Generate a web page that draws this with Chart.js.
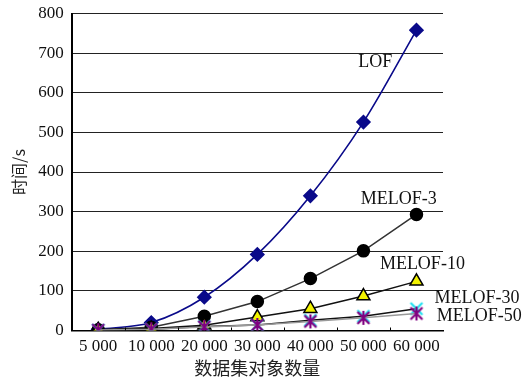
<!DOCTYPE html>
<html><head><meta charset="utf-8">
<script src="https://cdn.jsdelivr.net/npm/chart.js@4/dist/chart.umd.min.js"></script>
<style>html,body{margin:0;padding:0;background:#fff}</style>
</head><body>
<canvas id="c" width="530" height="380"></canvas>
<script>
const categories = ['5 000','10 000','20 000','30 000','40 000','50 000','60 000'];
const lof      = [3, 20, 84, 192, 340, 526, 758];
const melof3   = [2, 8, 36, 73, 131, 201, 293];
const melof10  = [2, 5, 13, 34, 55, 87, 124];
const melof30  = [1, 3, 10, 14, 26, 36, 55];
const melof50  = [1, 3, 9, 14, 23, 32, 43];
const yTicks   = [0,100,200,300,400,500,600,700,800];
const seriesNames = ['LOF','MELOF-3','MELOF-10','MELOF-30','MELOF-50'];
// label anchors: [category index, value]
const labelAnchors = [[4.9,677],[4.95,330],[5.31,167],[6.34,81],[6.38,36]];

function asterisk(color, r, spokes6) {
  const c = document.createElement('canvas');
  const s = r*2+4; c.width = s; c.height = s;
  const g = c.getContext('2d'); g.strokeStyle = color; g.lineWidth = 2.2; g.lineCap='butt';
  const m = s/2;
  g.beginPath();
  g.moveTo(m-r*0.85,m-r*0.85); g.lineTo(m+r*0.85,m+r*0.85);
  g.moveTo(m+r*0.85,m-r*0.85); g.lineTo(m-r*0.85,m+r*0.85);
  if (spokes6) { g.moveTo(m,m-r); g.lineTo(m,m+r); }
  g.stroke();
  return c;
}
const xCyan = asterisk('#22e0f0', 7, false);
const starPurple = asterisk('#800080', 7, true);

const serif = "'Liberation Serif','Times New Roman',serif";

const overlay = {
  id:'overlay',
  afterDraw(chart){
    const ctx = chart.ctx, xs = chart.scales.x, ys = chart.scales.y, a = chart.chartArea;
    ctx.save();
    ctx.strokeStyle = '#000'; ctx.lineWidth = 1;
    for (let i = 1; i < categories.length; i++) {
      const x = Math.round(xs.getPixelForValue(i-0.5)) + 0.5;
      ctx.beginPath(); ctx.moveTo(x, a.bottom); ctx.lineTo(x, a.bottom-3); ctx.stroke();
    }
    ctx.fillStyle = '#111'; ctx.font = '18px ' + serif;
    ctx.textAlign = 'left'; ctx.textBaseline = 'middle';
    seriesNames.forEach((n,i)=>{
      const [ci, v] = labelAnchors[i];
      ctx.fillText(n, xs.getPixelForValue(ci), ys.getPixelForValue(v));
    });
    ctx.restore();
  }
};

new Chart(document.getElementById('c'), {
  type:'line',
  data:{
    labels: categories,
    datasets:[
      {label:'LOF', data:lof, borderColor:'#0a0a8a', backgroundColor:'#0a0a8a', borderWidth:1.6, cubicInterpolationMode:'monotone',
       pointStyle:'rectRot', pointRadius:6.5, pointBorderColor:'#0a0a8a', pointBackgroundColor:'#0a0a8a', order:5},
      {label:'MELOF-3', data:melof3, borderColor:'#333', borderWidth:1.5, tension:0,
       pointStyle:'circle', pointRadius:6, pointBorderColor:'#000', pointBackgroundColor:'#000', order:4},
      {label:'MELOF-10', data:melof10, borderColor:'#111', borderWidth:1.5, tension:0,
       pointStyle:'triangle', pointRadius:7.5, pointBorderWidth:1.5, pointBorderColor:'#000', pointBackgroundColor:'#f2f200', order:3},
      {label:'MELOF-30', data:melof30, borderColor:'#111', borderWidth:1.5, tension:0,
       pointStyle:xCyan, order:2},
      {label:'MELOF-50', data:melof50, borderColor:'#999', borderWidth:1.5, tension:0,
       pointStyle:starPurple, order:1}
    ]
  },
  options:{
    responsive:false, animation:false,
    layout:{padding:{top:0,right:87,left:9,bottom:1}},
    plugins:{legend:{display:false}, tooltip:{enabled:false}},
    scales:{
      x:{
        offset:true,
        grid:{display:false, drawTicks:false},
        border:{display:true, color:'#000', width:1.5},
        ticks:{color:'#111', font:{family:serif, size:17}, maxRotation:0, autoSkip:false, padding:6},
        title:{display:true, text:'数据集对象数量', color:'#222', font:{family:"'Noto Sans CJK SC'", size:18}, padding:{top:-5.5,bottom:0}}
      },
      y:{
        min:0, max:800,
        afterBuildTicks(s){ s.ticks = yTicks.map(v=>({value:v})); },
        afterFit(s){ s.paddingTop = 13.5; },
        grid:{color:'#222', lineWidth:1, drawTicks:false},
        border:{display:true, color:'#000', width:2},
        ticks:{color:'#111', font:{family:serif, size:17}, padding:8},
        title:{display:true, text:'时间/s', color:'#222', font:{family:"'Noto Sans CJK SC'", size:16}, padding:{top:0,bottom:2}}
      }
    }
  },
  plugins:[overlay]
});
</script>
</body></html>
